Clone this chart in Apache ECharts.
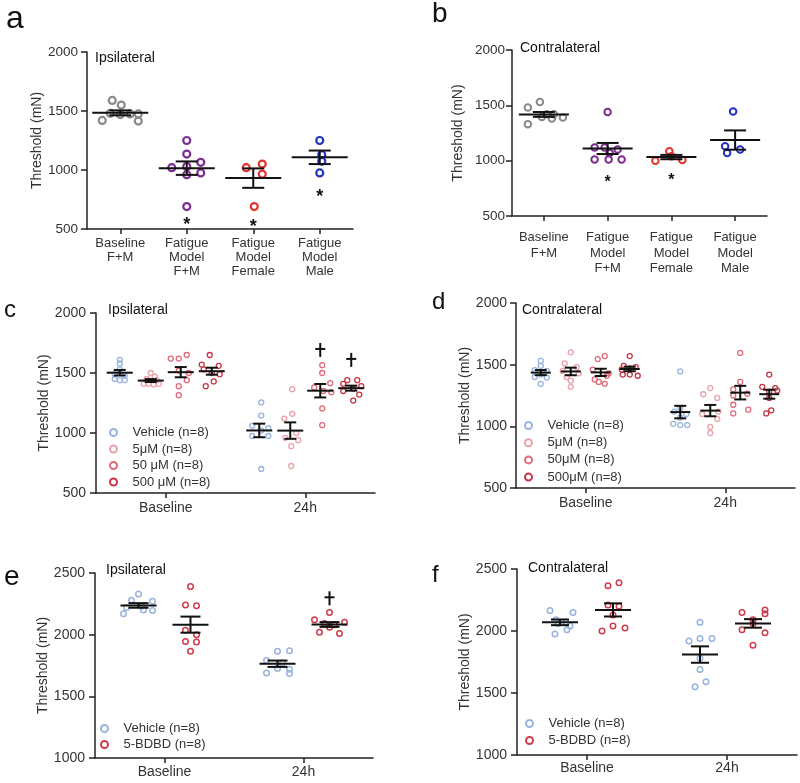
<!DOCTYPE html>
<html><head><meta charset="utf-8">
<script src="https://cdn.jsdelivr.net/npm/echarts@6/dist/echarts.min.js"></script>
<style>html,body{margin:0;padding:0;background:#fff}#chart{width:800px;height:783px}</style>
</head><body><div id="chart"></div>
<script>
// ===================== DATA =====================
// Panel a (Ipsilateral)
const A_CATEGORIES = ['Baseline\nF+M', 'Fatigue\nModel\nF+M', 'Fatigue\nModel\nFemale', 'Fatigue\nModel\nMale'];
const A_BASELINE_FM = [1590, 1550, 1480, 1470, 1475, 1475, 1420, 1415];
const A_FATIGUE_FM = [1250, 1135, 1065, 1020, 1030, 975, 960, 690];
const A_FATIGUE_FEMALE = [1020, 1050, 965, 690];
const A_FATIGUE_MALE = [1250, 1130, 1075, 975];
const A_STARS = [null, 578, 563, 812];
const A_TICKS = [500, 1000, 1500, 2000];

// Panel b (Contralateral)
const B_CATEGORIES = ['Baseline\nF+M', 'Fatigue\nModel\nF+M', 'Fatigue\nModel\nFemale', 'Fatigue\nModel\nMale'];
const B_BASELINE_FM = [1530, 1480, 1420, 1420, 1390, 1395, 1330, 1380];
const B_FATIGUE_FM = [1440, 1120, 1120, 1100, 1070, 1010, 1010, 1010];
const B_FATIGUE_FEMALE = [1000, 1005, 1085, 1040];
const B_FATIGUE_MALE = [1445, 1130, 1100, 1070];
const B_STARS = [null, 846, 864, null];
const B_TICKS = [500, 1000, 1500, 2000];

// Panel c (Ipsilateral, dose groups)
const CD_CATEGORIES = ['Baseline', '24h'];
const C_VEH_BASE = [1610, 1580, 1530, 1490, 1480, 1450, 1440, 1440];
const C_VEH_24H = [1255, 1145, 1060, 1040, 1020, 975, 975, 700];
const C_5_BASE = [1500, 1470, 1450, 1440, 1410, 1410, 1405, 1410];
const C_5_24H = [1365, 1160, 1120, 1000, 960, 940, 890, 725];
const C_50_BASE = [1650, 1620, 1620, 1520, 1500, 1440, 1390, 1315];
const C_50_24H = [1565, 1500, 1415, 1380, 1350, 1340, 1205, 1065];
const C_500_BASE = [1650, 1570, 1560, 1530, 1500, 1490, 1430, 1390];
const C_500_24H = [1440, 1440, 1410, 1390, 1370, 1350, 1320, 1270];
const C_CROSS_50 = [null, 1692];
const C_CROSS_500 = [null, 1609];
const C_TICKS = [500, 1000, 1500, 2000];

// Panel d (Contralateral, dose groups)
const D_VEH_BASE = [1530, 1490, 1455, 1450, 1420, 1400, 1395, 1345];
const D_VEH_24H = [1445, 1150, 1120, 1100, 1070, 1020, 1010, 1010];
const D_5_BASE = [1600, 1510, 1480, 1450, 1430, 1400, 1370, 1320];
const D_5_24H = [1310, 1260, 1230, 1120, 1100, 1060, 995, 945];
const D_50_BASE = [1570, 1545, 1460, 1430, 1410, 1380, 1360, 1345];
const D_50_24H = [1595, 1360, 1300, 1265, 1250, 1175, 1135, 1105];
const D_500_BASE = [1570, 1490, 1480, 1470, 1460, 1420, 1420, 1410];
const D_500_24H = [1420, 1320, 1310, 1290, 1280, 1230, 1130, 1105];
const D_TICKS = [500, 1000, 1500, 2000];

// Panel e (Ipsilateral, 5-BDBD)
const EF_CATEGORIES = ['Baseline', '24h'];
const E_VEH_BASE = [2330, 2280, 2270, 2230, 2220, 2200, 2195, 2170];
const E_VEH_24H = [1870, 1865, 1790, 1770, 1725, 1720, 1690, 1685];
const E_BDBD_BASE = [2390, 2240, 2235, 2035, 2000, 1945, 1940, 1865];
const E_BDBD_24H = [2180, 2120, 2100, 2090, 2080, 2060, 2020, 2010];
const E_CROSS = [null, 2295];
const E_TICKS = [1000, 1500, 2000, 2500];

// Panel f (Contralateral, 5-BDBD)
const F_VEH_BASE = [2165, 2150, 2090, 2070, 2060, 2040, 2010, 1975];
const F_VEH_24H = [2070, 1940, 1940, 1920, 1780, 1690, 1590, 1550];
const F_BDBD_BASE = [2390, 2365, 2210, 2200, 2130, 2040, 2025, 2000];
const F_BDBD_24H = [2170, 2150, 2140, 2090, 2060, 2010, 1985, 1885];
const F_TICKS = [1000, 1500, 2000, 2500];

// ===================== LAYOUT (pixel jitter, offsets, styles) =====================
const J = {
  aBase: [-8, 1, -10, 0, 10, 18, -18, 18], aFM: [0, 0, 14, -15, 0, 14, 0, 0], aF: [-7, 9, 9, 1], aM: [0, 2, 2, 0],
  bBase: [-4, -16, 3, 10, 19, -2, -16, 8], bFM: [0, -13, -3, 10, 2, -13, 1, 14], bF: [-16, 11, -2, 0], bM: [-2, -10, 5, -8],
  cVB: [0, 0, 0, -5, 5, -5, 5, 0], cV24: [2, 2, -7, 9, 2, -7, 9, 2],
  c5B: [0, 4, -4, 6, -7, -2, 3, 8], c524: [2, 2, -6, 6, -5, 8, 1, 1],
  c50B: [6, -10, -2, -2, 8, 6, -2, -2], c5024: [2, 2, 10, -6, 3, 11, 2, 2],
  c500B: [-2, -10, 7, -8, 0, 8, 2, -6], c50024: [-4, 6, -8, 10, 2, -8, 8, 2],
  dVB: [0, 0, -6, 6, 0, -6, 6, 0], dV24: [0, 0, -6, 6, 0, -7, 0, 7],
  d5B: [0, -6, 6, -8, 8, -4, 0, 0], d524: [0, -7, 7, 8, -8, 7, 0, 0],
  d50B: [4, -3, -8, 8, 6, -6, -2, 4], d5024: [0, 0, -7, 7, -7, -7, 8, -7],
  d500B: [0, -6, 6, 0, -8, -7, 0, 8], d50024: [0, -7, 6, 8, 0, 0, 2, -3],
  eVB: [0, -7, 14, 3, -12, 5, 14, -15], eV24: [12, 0, -11, 5, 0, 12, -11, 12],
  eBB: [0, -5, 6, -5, 6, -5, 6, 0], eB24: [0, -15, 15, -5, 5, 0, -10, 10],
  fVB: [-10, 13, -4, 6, -2, 10, 7, -5], fV24: [0, 0, 12, -11, 0, 0, 6, -5],
  fBB: [6, -5, -5, 6, 0, 0, 12, -11], fB24: [12, -11, 12, 0, 0, -11, 12, 0]
};
const FONT = "'Liberation Sans', Arial, Helvetica, sans-serif";
const AXC = '#222';
const COL = {
  gray: '#8a8a8a', purple: '#7d2c90', red: '#e5332c', blue: '#2433c0',
  veh: '#98b4de', d5: '#e9a2aa', d50: '#e06a7a', d500: '#c63444', bdbd: '#cf3d4c'
};

function stats(arr) {
  const n = arr.length;
  const m = arr.reduce((s, v) => s + v, 0) / n;
  const sd = Math.sqrt(arr.reduce((s, v) => s + (v - m) * (v - m), 0) / (n - 1));
  return { mean: m, sem: sd / Math.sqrt(n) };
}

const series = [];

function addGroup(panel, name, color, groups, off, st) {
  const data = [];
  groups.forEach(([ci, vals, jit]) => {
    vals.forEach((v, i) => data.push({ value: [ci, v], symbolOffset: [off + jit[i], 0] }));
  });
  series.push({
    type: 'scatter', name: name, xAxisIndex: panel, yAxisIndex: panel, z: 2, silent: true,
    symbol: 'circle', symbolSize: st.size,
    itemStyle: { color: 'rgba(255,255,255,0)', borderColor: color, borderWidth: st.bw, opacity: 1 },
    data: data
  });
  const ed = groups.map(([ci, vals]) => { const s = stats(vals); return [ci, s.mean, s.sem]; });
  series.push({
    type: 'custom', xAxisIndex: panel, yAxisIndex: panel, z: 5, silent: true,
    data: ed,
    renderItem: function (params, api) {
      const ci = api.value(0), m = api.value(1), s = api.value(2);
      const p = api.coord([ci, m]);
      const hi = api.coord([ci, m + s]);
      const lo = api.coord([ci, m - s]);
      const x = p[0] + off;
      const style = { stroke: '#111', lineWidth: st.lw, fill: null };
      return {
        type: 'group', children: [
          { type: 'line', shape: { x1: x - st.half, y1: p[1], x2: x + st.half, y2: p[1] }, style: style },
          { type: 'line', shape: { x1: x, y1: hi[1], x2: x, y2: lo[1] }, style: style },
          { type: 'line', shape: { x1: x - st.cap, y1: hi[1], x2: x + st.cap, y2: hi[1] }, style: style },
          { type: 'line', shape: { x1: x - st.cap, y1: lo[1], x2: x + st.cap, y2: lo[1] }, style: style }
        ]
      };
    }
  });
}

function addStars(panel, vals, fs) {
  const data = [];
  vals.forEach((v, i) => { if (v != null) data.push([i, v]); });
  series.push({
    type: 'custom', xAxisIndex: panel, yAxisIndex: panel, z: 6, silent: true, data: data,
    renderItem: function (params, api) {
      const p = api.coord([api.value(0), api.value(1)]);
      return { type: 'text', style: { text: '*', x: p[0], y: p[1] + fs * 0.28, align: 'center', verticalAlign: 'middle', font: 'bold ' + fs + 'px ' + FONT, fill: '#111' } };
    }
  });
}

function addCross(panel, vals, off) {
  const data = [];
  vals.forEach((v, i) => { if (v != null) data.push([i, v]); });
  series.push({
    type: 'custom', xAxisIndex: panel, yAxisIndex: panel, z: 6, silent: true, data: data,
    renderItem: function (params, api) {
      const p = api.coord([api.value(0), api.value(1)]);
      const x = p[0] + off, y = p[1];
      const style = { stroke: '#111', lineWidth: 2 };
      return {
        type: 'group', children: [
          { type: 'line', shape: { x1: x, y1: y - 7, x2: x, y2: y + 7 }, style: style },
          { type: 'line', shape: { x1: x - 5, y1: y - 1, x2: x + 5, y2: y - 1 }, style: style }
        ]
      };
    }
  });
}

// Panel a
const stA = { size: 7, bw: 2.2, lw: 2, half: 28, cap: 11 };
addGroup(0, 'a0', COL.gray, [[0, A_BASELINE_FM, J.aBase]], 0, stA);
addGroup(0, 'a1', COL.purple, [[1, A_FATIGUE_FM, J.aFM]], 0, stA);
addGroup(0, 'a2', COL.red, [[2, A_FATIGUE_FEMALE, J.aF]], 0, stA);
addGroup(0, 'a3', COL.blue, [[3, A_FATIGUE_MALE, J.aM]], 0, stA);
addStars(0, A_STARS, 18);
// Panel b
const stB = { size: 6.5, bw: 2, lw: 2, half: 25, cap: 11 };
addGroup(1, 'b0', COL.gray, [[0, B_BASELINE_FM, J.bBase]], 0, stB);
addGroup(1, 'b1', COL.purple, [[1, B_FATIGUE_FM, J.bFM]], 0, stB);
addGroup(1, 'b2', COL.red, [[2, B_FATIGUE_FEMALE, J.bF]], 0, stB);
addGroup(1, 'b3', COL.blue, [[3, B_FATIGUE_MALE, J.bM]], 0, stB);
addStars(1, B_STARS, 16);
// Panel c
const stC = { size: 5, bw: 1.3, lw: 2, half: 13, cap: 6 };
const OFF_C = [-46, -15, 15, 46];
addGroup(2, 'Vehicle (n=8)', COL.veh, [[0, C_VEH_BASE, J.cVB], [1, C_VEH_24H, J.cV24]], OFF_C[0], stC);
addGroup(2, '5μM (n=8)', COL.d5, [[0, C_5_BASE, J.c5B], [1, C_5_24H, J.c524]], OFF_C[1], stC);
addGroup(2, '50 μM (n=8)', COL.d50, [[0, C_50_BASE, J.c50B], [1, C_50_24H, J.c5024]], OFF_C[2], stC);
addGroup(2, '500 μM (n=8)', COL.d500, [[0, C_500_BASE, J.c500B], [1, C_500_24H, J.c50024]], OFF_C[3], stC);
addCross(2, C_CROSS_50, OFF_C[2]);
addCross(2, C_CROSS_500, OFF_C[3]);
// Panel d
const stD = { size: 5, bw: 1.3, lw: 2, half: 10, cap: 6 };
const OFF_D = [-45, -15, 15, 44];
addGroup(3, 'Vehicle (n=8)', COL.veh, [[0, D_VEH_BASE, J.dVB], [1, D_VEH_24H, J.dV24]], OFF_D[0], stD);
addGroup(3, '5μM (n=8)', COL.d5, [[0, D_5_BASE, J.d5B], [1, D_5_24H, J.d524]], OFF_D[1], stD);
addGroup(3, '50μM (n=8)', COL.d50, [[0, D_50_BASE, J.d50B], [1, D_50_24H, J.d5024]], OFF_D[2], stD);
addGroup(3, '500μM (n=8)', COL.d500, [[0, D_500_BASE, J.d500B], [1, D_500_24H, J.d50024]], OFF_D[3], stD);
// Panel e
const stE = { size: 5.5, bw: 1.5, lw: 2, half: 18, cap: 10 };
addGroup(4, 'Vehicle (n=8)', COL.veh, [[0, E_VEH_BASE, J.eVB], [1, E_VEH_24H, J.eV24]], -26, stE);
addGroup(4, '5-BDBD (n=8)', COL.bdbd, [[0, E_BDBD_BASE, J.eBB], [1, E_BDBD_24H, J.eB24]], 26, stE);
addCross(4, E_CROSS, 26);
// Panel f
const stF = { size: 5.5, bw: 1.5, lw: 2, half: 18, cap: 9 };
addGroup(5, 'Vehicle (n=8)', COL.veh, [[0, F_VEH_BASE, J.fVB], [1, F_VEH_24H, J.fV24]], -27, stF);
addGroup(5, '5-BDBD (n=8)', COL.bdbd, [[0, F_BDBD_BASE, J.fBB], [1, F_BDBD_24H, J.fB24]], 26, stF);

// ===================== AXES =====================
const grids = [
  { left: 87, top: 52, width: 266, height: 177 },
  { left: 512, top: 50, width: 255, height: 166 },
  { left: 96, top: 313, width: 279, height: 180 },
  { left: 516, top: 303, width: 279, height: 185 },
  { left: 95, top: 573, width: 278, height: 185 },
  { left: 517, top: 569, width: 280, height: 186 }
];
const cats = [A_CATEGORIES, B_CATEGORIES, CD_CATEGORIES, CD_CATEGORIES, EF_CATEGORIES, EF_CATEGORIES];
const ticks = [A_TICKS, B_TICKS, C_TICKS, D_TICKS, E_TICKS, F_TICKS];
const xLab = [
  { fontSize: 13, lineHeight: 14, margin: 7 },
  { fontSize: 13, lineHeight: 15.5, margin: 14 },
  { fontSize: 14, lineHeight: 16, margin: 7 },
  { fontSize: 14, lineHeight: 16, margin: 7 },
  { fontSize: 14, lineHeight: 16, margin: 6 },
  { fontSize: 14, lineHeight: 16, margin: 5 }
];
const yLab = [
  { fontSize: 13.5, margin: 9, nameGap: 39 },
  { fontSize: 13.5, margin: 7, nameGap: 47 },
  { fontSize: 14, margin: 10, nameGap: 35 },
  { fontSize: 14, margin: 9, nameGap: 36 },
  { fontSize: 14, margin: 10, nameGap: 37 },
  { fontSize: 14, margin: 10, nameGap: 37 }
];
const xAxis = grids.map((g, i) => ({
  type: 'category', gridIndex: i, data: cats[i], boundaryGap: true,
  axisLine: { show: true, lineStyle: { color: AXC, width: 1.5 } },
  axisTick: { show: true, alignWithLabel: true, length: 5, lineStyle: { color: AXC, width: 1.5 } },
  axisLabel: { interval: 0, color: '#333', fontFamily: FONT, fontSize: xLab[i].fontSize, lineHeight: xLab[i].lineHeight, margin: xLab[i].margin },
  splitLine: { show: false }
}));
const yAxis = grids.map((g, i) => ({
  type: 'value', gridIndex: i,
  min: ticks[i][0], max: ticks[i][ticks[i].length - 1], interval: ticks[i][1] - ticks[i][0],
  axisLine: { show: true, lineStyle: { color: AXC, width: 1.5 } },
  axisTick: { show: true, length: 6, lineStyle: { color: AXC, width: 1.5 } },
  axisLabel: { color: '#333', fontFamily: FONT, fontSize: yLab[i].fontSize, margin: yLab[i].margin, formatter: v => String(v) },
  splitLine: { show: false },
  name: 'Threshold (mN)', nameLocation: 'middle', nameGap: yLab[i].nameGap, nameRotate: 90,
  nameTextStyle: { color: '#333', fontFamily: FONT, fontSize: 14 }
}));

// ===================== LEGENDS =====================
function legend(left, top, names, gap) {
  return {
    left: left, top: top, orient: 'vertical', itemWidth: 28, itemHeight: 7, itemGap: gap,
    selectedMode: false, data: names,
    textStyle: { fontFamily: FONT, fontSize: 13, color: '#333', padding: [0, 0, 0, 0] }
  };
}
const legends = [
  legend(104, 421, ['Vehicle (n=8)', '5μM (n=8)', '50 μM (n=8)', '500 μM (n=8)'], 3.5),
  legend(519, 414, ['Vehicle (n=8)', '5μM (n=8)', '50μM (n=8)', '500μM (n=8)'], 4.2),
  legend(95, 717, ['Vehicle (n=8)', '5-BDBD (n=8)'], 3),
  legend(520, 712, ['Vehicle (n=8)', '5-BDBD (n=8)'], 4)
];

// ===================== TEXT =====================
function txt(x, y, s, fs) {
  return { type: 'text', left: x, top: y - fs * 0.6, silent: true,
    style: { text: s, font: fs + 'px ' + FONT, fill: '#111' } };
}
const graphic = [
  txt(6, 22, 'a', 32), txt(432, 17, 'b', 28), txt(4, 313, 'c', 24),
  txt(432, 305, 'd', 24), txt(4, 580, 'e', 28), txt(432, 578, 'f', 24),
  txt(95, 60, 'Ipsilateral', 14), txt(520, 50, 'Contralateral', 14),
  txt(108, 312, 'Ipsilateral', 14), txt(522, 312, 'Contralateral', 14),
  txt(106, 572, 'Ipsilateral', 14), txt(528, 570, 'Contralateral', 14)
];

const chart = echarts.init(document.getElementById('chart'), null, { renderer: 'canvas' });
chart.setOption({
  backgroundColor: '#fff', animation: false,
  textStyle: { fontFamily: FONT },
  grid: grids, xAxis: xAxis, yAxis: yAxis, legend: legends, graphic: graphic, series: series
});
</script></body></html>
